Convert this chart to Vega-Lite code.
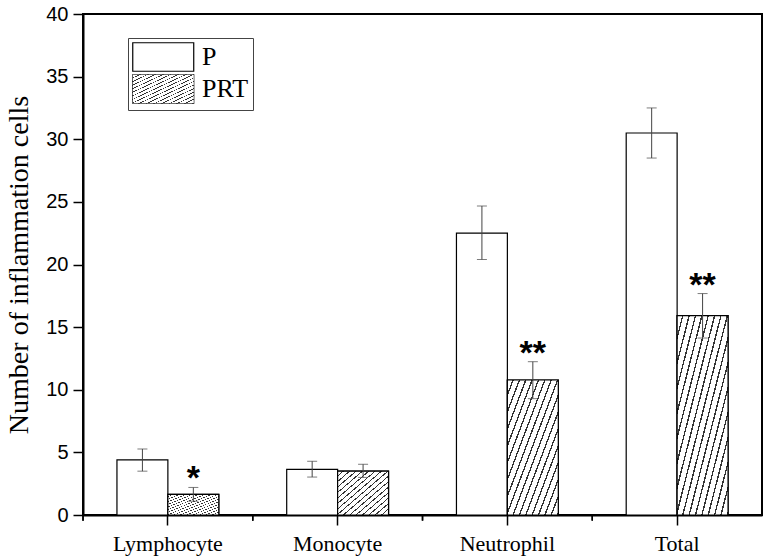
{
  "$schema": "https://vega.github.io/schema/vega-lite/v6.json",
  "width": 679,
  "height": 501,
  "autosize": "none",
  "padding": {"left": 83, "top": 14, "right": 6, "bottom": 43},
  "background": "white",
  "config": {
    "view": {"stroke": "black", "strokeWidth": 2},
    "axis": {"grid": false, "domainColor": "black", "domainWidth": 2, "tickColor": "black", "tickWidth": 1.5, "labelColor": "black", "titleColor": "black"}
  },
  "data": {
    "values": [
      {"cell": "Lymphocyte", "group": "P", "mean": 4.4, "lo": 3.5, "hi": 5.27, "sig": ""},
      {"cell": "Lymphocyte", "group": "PRT", "mean": 1.65, "lo": 1.1, "hi": 2.2, "sig": "*"},
      {"cell": "Monocyte", "group": "P", "mean": 3.65, "lo": 3.03, "hi": 4.29, "sig": ""},
      {"cell": "Monocyte", "group": "PRT", "mean": 3.5, "lo": 3.0, "hi": 4.05, "sig": ""},
      {"cell": "Neutrophil", "group": "P", "mean": 22.5, "lo": 20.4, "hi": 24.67, "sig": ""},
      {"cell": "Neutrophil", "group": "PRT", "mean": 10.78, "lo": 9.29, "hi": 12.24, "sig": "**"},
      {"cell": "Total", "group": "P", "mean": 30.5, "lo": 28.5, "hi": 32.5, "sig": ""},
      {"cell": "Total", "group": "PRT", "mean": 15.92, "lo": 14.13, "hi": 17.68, "sig": "**"}
    ]
  },
  "encoding": {
    "x": {"field": "cell", "type": "nominal", "sort": null,
      "scale": {"paddingInner": 0, "paddingOuter": 0},
      "axis": {"title": null, "orient": "bottom", "labelAngle": 0, "tickSize": 10, "labelPadding": 8, "labelFont": "Liberation Serif", "labelFontSize": 22}}
  },
  "layer": [
    {
      "encoding": {
        "xOffset": {"field": "group", "type": "nominal", "sort": ["P", "PRT"], "scale": {"paddingInner": 0, "paddingOuter": 0.6667}}
      },
      "layer": [
        {
          "mark": {"type": "bar", "fill": "white", "stroke": "black", "strokeWidth": 1.2},
          "encoding": {
            "y": {"field": "mean", "type": "quantitative",
              "scale": {"domain": [0, 40], "nice": false},
              "axis": {"title": "Number of inflammation cells", "titleFont": "Liberation Serif", "titleFontSize": 28, "titleFontWeight": "normal", "titlePadding": 12,
                "values": [0, 2.5, 5, 7.5, 10, 12.5, 15, 17.5, 20, 22.5, 25, 27.5, 30, 32.5, 35, 37.5, 40],
                "labelExpr": "datum.value % 5 === 0 ? datum.label : ''",
                "tickSize": {"condition": {"test": "datum.value % 5 === 0", "value": 10}, "value": 5},
                "labelFont": "Liberation Sans", "labelFontSize": 20, "labelPadding": 5}},
            "stroke": {"field": "group", "type": "nominal", "scale": {"domain": ["P", "PRT"], "range": ["black", "black"]},
              "legend": {"title": null, "orient": "none", "legendX": 45, "legendY": 24, "zindex": 0,
                "strokeColor": "#444", "fillColor": "white", "padding": 4, "rowPadding": -2,
                "symbolType": "M-1,-1H3.28V1H-1Z", "symbolSize": 812, "symbolStrokeWidth": 1.2,
                "labelFont": "Liberation Serif", "labelFontSize": 26, "labelColor": "black", "labelOffset": 40}
            }
          }
        },
        {
          "mark": {"type": "bar", "stroke": "black", "strokeWidth": 1.2, "fill": {"gradient": "linear", "x1": 0, "y1": 0, "x2": 1, "y2": 1, "stops": [
                {"offset": 0, "color": "#fff"}, {"offset": 0.04875, "color": "#fff"}, {"offset": 0.04875, "color": "#333"}, {"offset": 0.0625, "color": "#333"},
                {"offset": 0.0625, "color": "#fff"}, {"offset": 0.11125, "color": "#fff"}, {"offset": 0.11125, "color": "#333"}, {"offset": 0.125, "color": "#333"},
                {"offset": 0.125, "color": "#fff"}, {"offset": 0.17375, "color": "#fff"}, {"offset": 0.17375, "color": "#333"}, {"offset": 0.1875, "color": "#333"},
                {"offset": 0.1875, "color": "#fff"}, {"offset": 0.23625, "color": "#fff"}, {"offset": 0.23625, "color": "#333"}, {"offset": 0.25, "color": "#333"},
                {"offset": 0.25, "color": "#fff"}, {"offset": 0.29875, "color": "#fff"}, {"offset": 0.29875, "color": "#333"}, {"offset": 0.3125, "color": "#333"},
                {"offset": 0.3125, "color": "#fff"}, {"offset": 0.36125, "color": "#fff"}, {"offset": 0.36125, "color": "#333"}, {"offset": 0.375, "color": "#333"},
                {"offset": 0.375, "color": "#fff"}, {"offset": 0.42375, "color": "#fff"}, {"offset": 0.42375, "color": "#333"}, {"offset": 0.4375, "color": "#333"},
                {"offset": 0.4375, "color": "#fff"}, {"offset": 0.48625, "color": "#fff"}, {"offset": 0.48625, "color": "#333"}, {"offset": 0.5, "color": "#333"},
                {"offset": 0.5, "color": "#fff"}, {"offset": 0.54875, "color": "#fff"}, {"offset": 0.54875, "color": "#333"}, {"offset": 0.5625, "color": "#333"},
                {"offset": 0.5625, "color": "#fff"}, {"offset": 0.61125, "color": "#fff"}, {"offset": 0.61125, "color": "#333"}, {"offset": 0.625, "color": "#333"},
                {"offset": 0.625, "color": "#fff"}, {"offset": 0.67375, "color": "#fff"}, {"offset": 0.67375, "color": "#333"}, {"offset": 0.6875, "color": "#333"},
                {"offset": 0.6875, "color": "#fff"}, {"offset": 0.73625, "color": "#fff"}, {"offset": 0.73625, "color": "#333"}, {"offset": 0.75, "color": "#333"},
                {"offset": 0.75, "color": "#fff"}, {"offset": 0.79875, "color": "#fff"}, {"offset": 0.79875, "color": "#333"}, {"offset": 0.8125, "color": "#333"},
                {"offset": 0.8125, "color": "#fff"}, {"offset": 0.86125, "color": "#fff"}, {"offset": 0.86125, "color": "#333"}, {"offset": 0.875, "color": "#333"},
                {"offset": 0.875, "color": "#fff"}, {"offset": 0.92375, "color": "#fff"}, {"offset": 0.92375, "color": "#333"}, {"offset": 0.9375, "color": "#333"},
                {"offset": 0.9375, "color": "#fff"}, {"offset": 0.98625, "color": "#fff"}, {"offset": 0.98625, "color": "#333"}, {"offset": 1, "color": "#333"}
              ]}},
          "encoding": {
            "y": {"field": "mean", "type": "quantitative"},
            "opacity": {"field": "group", "type": "ordinal", "scale": {"range": [0, 1]},
              "legend": {"title": null, "orient": "none", "legendX": 45, "legendY": 56, "zindex": 1,
                "padding": 4, "rowPadding": -2,
                "symbolType": "M-1,-1H3.28V1H-1Z", "symbolSize": 812, "symbolStrokeWidth": 1.2, "symbolStrokeColor": "black",
                "labelFont": "Liberation Serif", "labelFontSize": 26, "labelColor": "black", "labelExpr": "''", "labelOffset": 40}
            }
          }
        },
        {
          "mark": {"type": "rule", "color": "#444", "strokeWidth": 1},
          "encoding": {"y": {"field": "lo", "type": "quantitative"}, "y2": {"field": "hi"}}
        },
        {
          "mark": {"type": "tick", "color": "#444", "thickness": 1, "size": 10},
          "encoding": {"y": {"field": "lo", "type": "quantitative"}}
        },
        {
          "mark": {"type": "tick", "color": "#444", "thickness": 1, "size": 10},
          "encoding": {"y": {"field": "hi", "type": "quantitative"}}
        },
        {
          "transform": [{"filter": "datum.sig !== ''"}],
          "mark": {"type": "text", "font": "Liberation Sans", "fontWeight": "bold", "fontSize": 34, "baseline": "alphabetic", "dy": 2, "color": "black"},
          "encoding": {"y": {"field": "hi", "type": "quantitative"}, "text": {"field": "sig"}}
        }
      ]
    },
    {
      "mark": {"type": "rule", "color": "black", "strokeWidth": 1.5},
      "encoding": {
        "x": {"field": "cell", "type": "nominal", "sort": null, "bandPosition": 0.0001},
        "y": {"datum": 0, "type": "quantitative"},
        "y2": {"datum": -0.45}
      }
    }
  ]
}
